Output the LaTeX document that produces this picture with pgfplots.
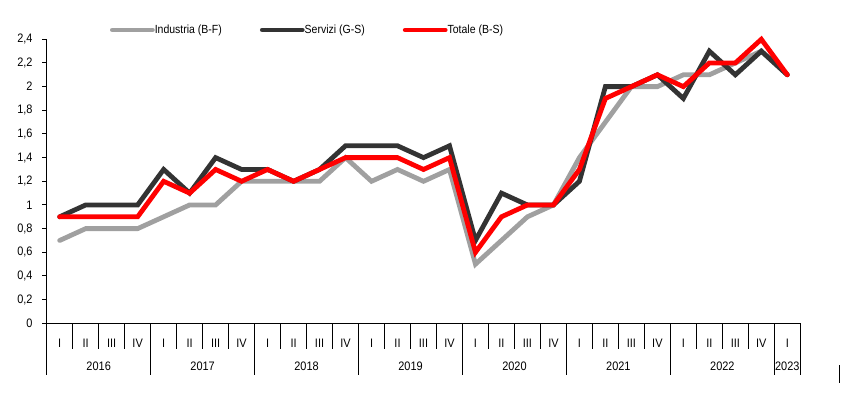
\documentclass[border=0pt]{standalone}
\usepackage{fontspec}
\setmainfont{Liberation Sans}[FakeStretch=0.89]
\usepackage{pgfplots}
\pgfplotsset{compat=1.18}
\definecolor{ind}{HTML}{A0A0A0}
\definecolor{ser}{HTML}{333333}
\definecolor{tot}{HTML}{FF0000}
\newcommand{\tickfont}{\fontsize{12.3bp}{14bp}\selectfont}
\begin{document}
\begin{tikzpicture}
\useasboundingbox (-46.7bp,-75.7bp) rectangle (821.3bp,323.3bp);
\begin{axis}[
  at={(0,0)}, anchor=south west, scale only axis,
  width=753.6bp, height=284bp,
  xmin=-0.5, xmax=28.5, ymin=0, ymax=2.4,
  axis x line=bottom, axis y line=left,
  axis line style={-, line width=1.1bp, black},
  clip=false,
  tick align=outside,
  major tick length=4.5bp,
  ytick={0,0.2,0.4,0.6,0.8,1,1.2,1.4,1.6,1.8,2,2.2,2.4},
  ytick style={black, line width=1bp},
  yticklabel style={anchor=east, inner sep=0pt, xshift=-9.5bp, font=\tickfont,
    /pgf/number format/.cd, use comma, fixed, precision=1, assume math mode=true},
  xtick={0,...,28},
  xticklabels={I,II,III,IV,I,II,III,IV,I,II,III,IV,I,II,III,IV,I,II,III,IV,I,II,III,IV,I,II,III,IV,I},
  xtick style={draw=none},
  xticklabel style={anchor=center, inner sep=0pt, yshift=-15.5bp, font=\tickfont},
  legend columns=3,
  legend style={at={(axis description cs:0.084,1.0328)}, anchor=west, draw=none, fill=none,
    inner sep=0pt, outer sep=0pt, font=\fontsize{11.8bp}{13bp}\selectfont,
    nodes={inner sep=0pt},
    /tikz/every odd column/.append style={column sep=0bp},
    /tikz/every even column/.append style={column sep=38bp}},
  legend image code/.code={\draw[#1, line cap=round] (2.4bp,0bp) -- (37.6bp,0bp); \path (0bp,0bp) -- (40bp,0bp);},
]
\addplot[ind, line width=4.8bp, line cap=round] coordinates {
(0,0.7)(1,0.8)(2,0.8)(3,0.8)(4,0.9)(5,1.0)(6,1.0)(7,1.2)(8,1.2)(9,1.2)(10,1.2)(11,1.4)(12,1.2)(13,1.3)(14,1.2)(15,1.3)(16,0.5)(17,0.7)(18,0.9)(19,1.0)(20,1.4)(21,1.7)(22,2.0)(23,2.0)(24,2.1)(25,2.1)(26,2.2)(27,2.3)(28,2.1)};
\addlegendentry{Industria (B-F)}
\addplot[ser, line width=4.8bp, line cap=round] coordinates {
(0,0.9)(1,1.0)(2,1.0)(3,1.0)(4,1.3)(5,1.1)(6,1.4)(7,1.3)(8,1.3)(9,1.2)(10,1.3)(11,1.5)(12,1.5)(13,1.5)(14,1.4)(15,1.5)(16,0.7)(17,1.1)(18,1.0)(19,1.0)(20,1.2)(21,2.0)(22,2.0)(23,2.1)(24,1.9)(25,2.3)(26,2.1)(27,2.3)(28,2.1)};
\addlegendentry{Servizi (G-S)}
\addplot[tot, line width=4.8bp, line cap=round] coordinates {
(0,0.9)(1,0.9)(2,0.9)(3,0.9)(4,1.2)(5,1.1)(6,1.3)(7,1.2)(8,1.3)(9,1.2)(10,1.3)(11,1.4)(12,1.4)(13,1.4)(14,1.3)(15,1.4)(16,0.6)(17,0.9)(18,1.0)(19,1.0)(20,1.3)(21,1.9)(22,2.0)(23,2.1)(24,2.0)(25,2.2)(26,2.2)(27,2.4)(28,2.1)};
\addlegendentry{Totale (B-S)}
\end{axis}
\foreach \i in {0,...,29} \draw[line width=1bp] (\i*25.986bp,0) -- (\i*25.986bp,-26bp);
\foreach \i in {0,4,8,12,16,20,24,28,29} \draw[line width=1bp] (\i*25.986bp,0) -- (\i*25.986bp,-51.7bp);
\foreach \y [count=\k from 0] in {2016,2017,2018,2019,2020,2021,2022}
  \node[font=\tickfont, inner sep=0pt] at ({(4*\k+2)*25.986bp},-42.7bp) {\y};
\node[font=\tickfont, inner sep=0pt] at ({28.5*25.986bp},-42.7bp) {2023};
\draw[line width=1.2bp] (792.6bp,-41.7bp) -- (792.6bp,-60bp);
\end{tikzpicture}
\end{document}
